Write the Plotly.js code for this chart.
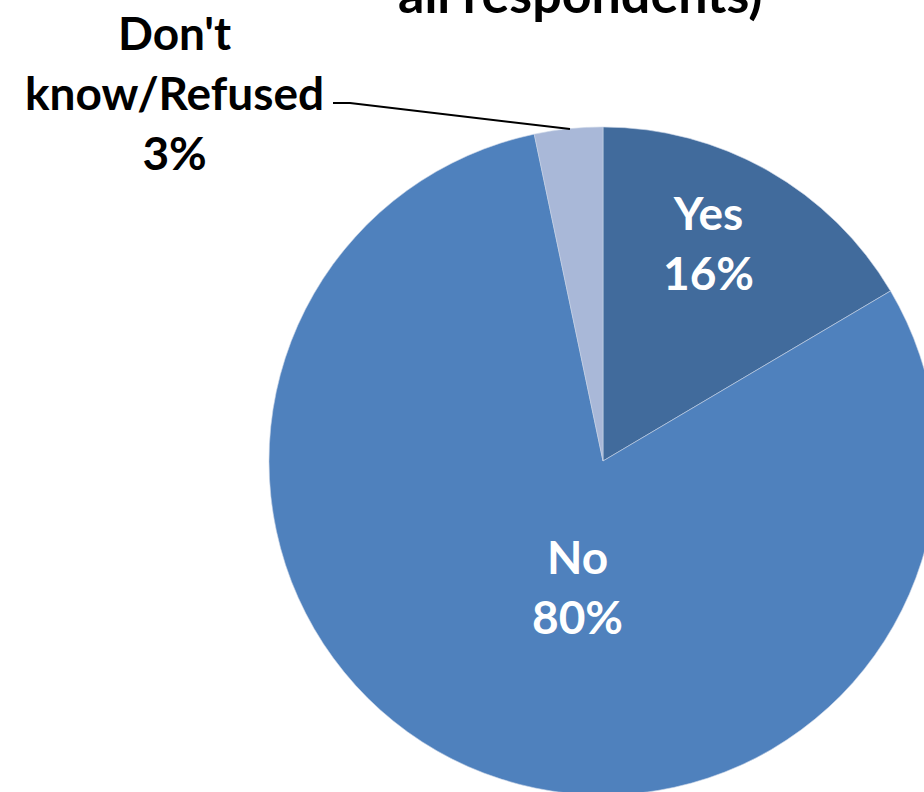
<!DOCTYPE html>
<html><head><meta charset="utf-8">
<script src="https://cdn.plot.ly/plotly-3.0.1.min.js"></script>
<style>html,body{margin:0;padding:0;overflow:hidden;background:#fff;width:924px;height:792px}#chart{width:1000px;height:900px}</style>
</head><body><div id="chart"></div>
<script>
const categories = ["Yes", "No", "Don't<br>know/Refused"];
const values = [16.5, 80.2, 3.3];
const pctLabels = ["16%", "80%", "3%"];
const colors = ["#416B9C", "#4F81BD", "#A9B8D8"];
const titleText = "all respondents)";

const W = 1000, H = 900;
const px = x => x / W, py = y => 1 - y / H;
const font = "Lato, 'Open Sans', sans-serif";

const labelPos = [[708, 242, "#ffffff"], [577, 586, "#ffffff"], [174, 93, "#000000"]];
const annotations = categories.map((c, i) => ({
  xref: "paper", yref: "paper", x: px(labelPos[i][0]), y: py(labelPos[i][1]),
  xanchor: "center", yanchor: "middle", showarrow: false,
  text: "<b>" + c + "<br>" + pctLabels[i] + "</b>",
  font: {family: font, size: 46, color: labelPos[i][2]}
}));
annotations.push({
  xref: "paper", yref: "paper", x: px(580), y: py(26), xanchor: "center", yanchor: "bottom",
  showarrow: false, text: "<b>" + titleText + "</b>", font: {family: font, size: 52, color: "#000"}
});

Plotly.newPlot("chart", [{
  type: "pie", labels: categories, values: values, sort: false, direction: "clockwise", rotation: 0,
  marker: {colors: colors, line: {color: "#c8d3e6", width: 0.6}},
  textinfo: "none", hoverinfo: "none", showlegend: false,
  domain: {x: [px(603 - 334), px(603 + 334)], y: [py(461 + 334), py(461 - 334)]}
}], {
  width: W, height: H, margin: {l: 0, r: 0, t: 0, b: 0},
  paper_bgcolor: "#fff", showlegend: false,
  annotations: annotations,
  shapes: [{type: "path", xref: "paper", yref: "paper",
    path: `M ${px(333)} ${py(103)} L ${px(350)} ${py(103)} L ${px(570)} ${py(129)}`,
    line: {color: "#000", width: 2}}]
}, {displayModeBar: false, staticPlot: true});
</script></body></html>
